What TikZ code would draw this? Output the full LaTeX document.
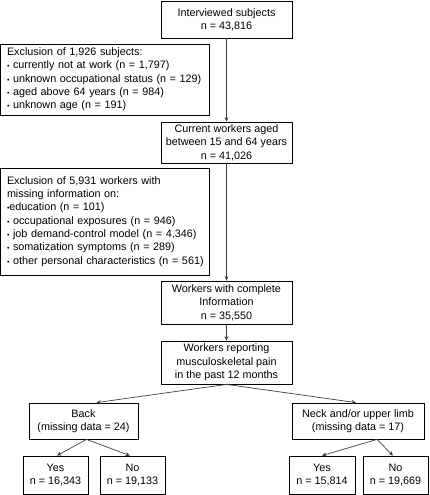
\documentclass[tikz,border=0pt]{standalone}
\usepackage{fontspec}
\setmainfont{Liberation Sans}
\usepackage{tikz}
\usetikzlibrary{positioning,arrows.meta}

\newcommand{\bul}{{\scriptsize\textbullet}}

\begin{document}
\begin{tikzpicture}[x=1pt,y=-1pt]
\tikzset{every node/.style={font=\fontsize{10.8}{13.3}\selectfont},
  box/.style={draw=black,line width=0.8pt,align=center,inner sep=0pt},
  note/.style={box,align=left,text width=203pt,inner xsep=3pt},
  arr/.style={draw=black!75,line width=0.7pt,-{Stealth[length=4.5pt,width=4pt]}}}
\useasboundingbox (0,0) rectangle (430,495);
% main column
\node [box,minimum width=131pt,minimum height=37pt] (subj) at (226.5,19.5) {Interviewed subjects\\n = 43,816};
\node [box,minimum width=131pt,minimum height=41pt] (aged) at (226.5,142.5) {Current workers aged\\between 15 and 64 years\\n = 41,026};
\node [box,minimum width=131pt,minimum height=43pt] (compl) at (226.5,302.5) {Workers with complete\\Information\\n = 35,550};
\node [box,minimum width=131pt,minimum height=43pt] (pain) at (226.5,362.5) {Workers reporting\\musculoskeletal pain\\in the past 12 months};
% exclusions
\node [note,minimum height=71pt] (excla) at (104.5,79.5) {\hspace*{4pt}Exclusion of 1,926 subjects:\\
\hspace*{4pt}\bul\ currently not at work (n = 1,797)\\
\hspace*{4pt}\bul\ unknown occupational status (n = 129)\\
\hspace*{4pt}\bul\ aged above 64 years (n = 984)\\
\hspace*{4pt}\bul\ unknown age (n = 191)};
\node [note,minimum height=107pt] (exclb) at (104.5,221.5) {\hspace*{4pt}Exclusion of 5,931 workers with\\
\hspace*{4pt}missing information on:\\
\hspace*{4pt}\bul education (n = 101)\\
\hspace*{4pt}\bul\ occupational exposures (n = 946)\\
\hspace*{4pt}\bul\ job demand-control model (n = 4,346)\\
\hspace*{4pt}\bul\ somatization symptoms (n = 289)\\
\hspace*{4pt}\bul\ other personal characteristics (n = 561)};
% pain sites
\node [box,minimum width=109pt,minimum height=36pt] (back) at (83.5,421) {Back\\(missing data = 24)};
\node [box,minimum width=132pt,minimum height=36pt] (neck) at (358,421) {Neck and/or upper limb\\(missing data = 17)};
\node [box,minimum width=65pt,minimum height=38pt] (backyes) at (55.5,475) {Yes\\n = 16,343};
\node [box,minimum width=65pt,minimum height=38pt] (backno) at (132.5,475) {No\\n = 19,133};
\node [box,minimum width=66pt,minimum height=38pt] (neckyes) at (322,475) {Yes\\n = 15,814};
\node [box,minimum width=65pt,minimum height=38pt] (neckno) at (395.5,475) {No\\n = 19,669};
% connectors
\draw [arr] (subj) -- (aged);
\draw [arr] (aged) -- (compl);
\draw [arr] (compl) -- (pain);
\draw [arr] (pain.south) -- ([xshift=13pt]back.north);
\draw [arr] (pain.south) -- ([xshift=-2pt]neck.north);
\draw [arr] ([xshift=3pt]back.south) -- ([xshift=1.5pt]backyes.north);
\draw [arr] ([xshift=3pt]back.south) -- ([xshift=-2.5pt]backno.north);
\draw [arr] ([xshift=19pt]neck.south) -- (neckyes.north);
\draw [arr] ([xshift=19pt]neck.south) -- ([xshift=-2.5pt]neckno.north);
\end{tikzpicture}
\end{document}
